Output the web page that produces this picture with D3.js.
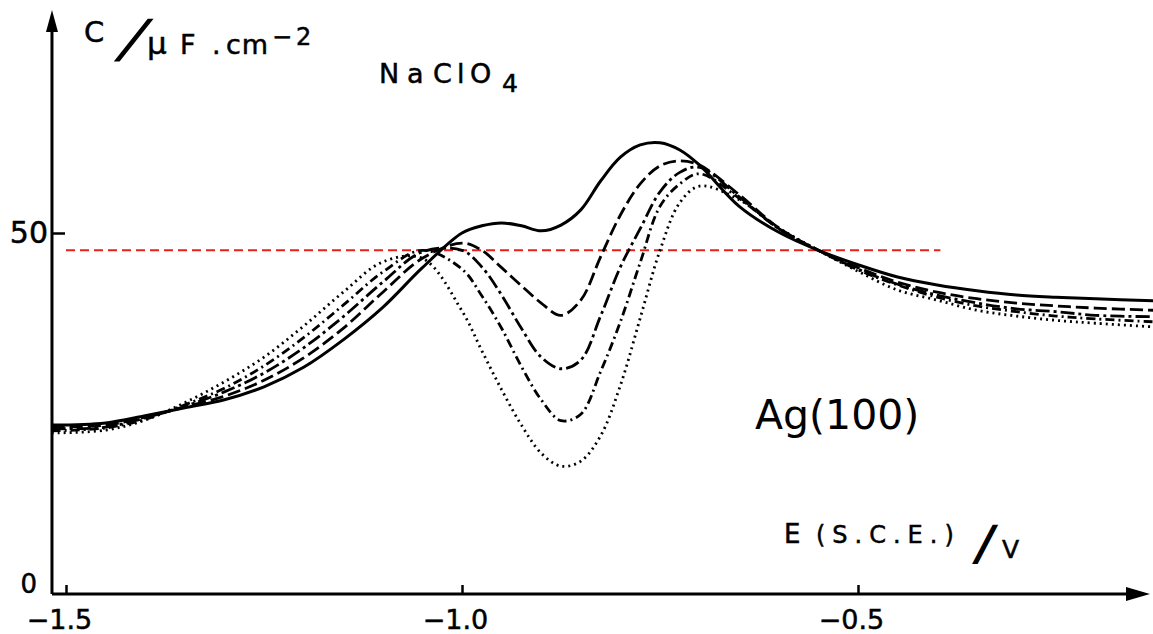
<!DOCTYPE html>
<html>
<head>
<meta charset="utf-8">
<script src="https://cdn.jsdelivr.net/npm/d3@7"></script>
<style>
  body { margin: 0; background: #fff; }
  text { font-family: "DejaVu Sans", sans-serif; fill: #000; }
  .scan { stroke: #000; stroke-width: 0.5; }
  .slash { stroke: #000; stroke-width: 1.6; }
</style>
</head>
<body>
<div id="chart"></div>
<script>
var width = 1153, height = 634;

// potentials (V vs SCE), shared by all curves
var potential = [-1.518, -1.45, -1.40, -1.35, -1.30, -1.25, -1.20, -1.15, -1.10, -1.05,
  -1.00, -0.975, -0.95, -0.925, -0.90, -0.875, -0.85, -0.825, -0.80, -0.775,
  -0.75, -0.725, -0.70, -0.65, -0.60, -0.55, -0.50, -0.45, -0.40, -0.35,
  -0.30, -0.25, -0.20, -0.127];

// capacitance, uF/cm2
var capSolid = [23.4, 23.7, 24.7, 25.8, 26.9, 28.7, 31.4, 35.2, 39.7, 45.2,
  50.0, 51.0, 51.4, 51.0, 50.3, 51.1, 53.2, 57.2, 60.5, 62.2,
  62.5, 61.5, 59.4, 53.7, 50.1, 47.6, 45.6, 43.9, 42.8, 42.0,
  41.4, 41.1, 40.9, 40.6];
var capDash = [23.1, 23.4, 24.5, 25.9, 27.4, 29.6, 32.7, 36.8, 41.8, 46.5,
  48.6, 47.6, 45.2, 42.7, 40.3, 38.6, 40.7, 46.7, 52.5, 56.8,
  59.3, 60.0, 59.4, 55.3, 50.7, 47.6, 45.2, 43.2, 41.8, 40.9,
  40.3, 39.9, 39.6, 39.3];
var capDashDot = [22.9, 23.1, 24.4, 26.0, 28.0, 30.6, 34.1, 38.4, 43.2, 47.4,
  47.6, 45.3, 41.4, 36.8, 32.8, 31.2, 32.4, 38.5, 45.3, 50.6,
  55.7, 58.4, 59.1, 55.0, 50.6, 47.6, 45.0, 42.9, 41.4, 40.3,
  39.5, 39.1, 38.6, 38.4];
var capDash2 = [22.6, 23.0, 24.2, 26.2, 28.5, 31.6, 35.5, 40.0, 44.6, 47.6,
  45.0, 41.3, 36.8, 31.5, 26.9, 24.0, 24.9, 30.8, 37.7, 45.9,
  53.7, 56.8, 58.2, 54.8, 50.6, 47.6, 44.9, 42.8, 41.1, 39.9,
  39.1, 38.5, 38.1, 37.7];
var capDotted = [22.3, 22.7, 24.1, 26.5, 29.4, 32.8, 37.1, 41.8, 46.0, 46.5,
  39.2, 33.7, 28.3, 23.4, 19.5, 17.7, 18.4, 21.9, 28.9, 38.2,
  47.6, 54.2, 56.5, 54.6, 50.7, 47.6, 44.7, 42.1, 40.7, 39.3,
  38.5, 37.9, 37.5, 37.0];

var curveNames = ["solid", "dash", "dashdot", "dash2", "dotted"];
var curveDash = ["none", "13,5", "14,4,3,4", "9,4,2,4", "2,4"];
var curveValues = [capSolid, capDash, capDashDot, capDash2, capDotted];

var xTicks = [-1.5, -1.0, -0.5];
var yTicks = [0, 50];
var refLevel = 47.6;         // red dashed reference
var refRange = [-1.50, -0.396];

var svg = d3.select("#chart").append("svg")
  .attr("width", width)
  .attr("height", height);

var x = d3.scaleLinear().domain([-1.5, -0.5]).range([66, 858]);
var y = d3.scaleLinear().domain([0, 50]).range([594, 233]);

var x0 = x(-1.5177), xEnd = 1150, yTop = 10;

// axes
svg.append("line")
  .attr("x1", x0).attr("x2", x0).attr("y1", y(0)).attr("y2", yTop + 12)
  .attr("stroke", "#000").attr("stroke-width", 3);
svg.append("path")
  .attr("d", "M" + x0 + "," + yTop + " L" + (x0 - 6) + "," + (yTop + 22) + " L" + (x0 + 6) + "," + (yTop + 22) + " Z")
  .attr("fill", "#000");
svg.append("line")
  .attr("x1", x0).attr("x2", xEnd - 14).attr("y1", y(0)).attr("y2", y(0))
  .attr("stroke", "#000").attr("stroke-width", 3);
svg.append("path")
  .attr("d", "M" + xEnd + "," + y(0) + " L" + (xEnd - 24) + "," + (y(0) - 7) + " L" + (xEnd - 24) + "," + (y(0) + 7) + " Z")
  .attr("fill", "#000");

var xAxis = d3.axisBottom(x)
  .tickValues(xTicks)
  .tickSizeInner(-9)
  .tickSizeOuter(0)
  .tickPadding(16)
  .tickFormat(function(d){ return "\u2212" + Math.abs(d).toFixed(1); });

var gx = svg.append("g")
  .attr("transform", "translate(0," + y(0) + ")")
  .call(xAxis);
gx.select(".domain").remove();
gx.selectAll(".tick line").attr("stroke", "#000").attr("stroke-width", 2.5);
gx.selectAll(".tick text")
  .attr("class", "scan")
  .attr("font-size", 27)
  .attr("font-family", "DejaVu Sans, sans-serif")
  .attr("dx", -7);

var yAxis = d3.axisLeft(y)
  .tickValues(yTicks)
  .tickSizeInner(-13)
  .tickSizeOuter(0)
  .tickPadding(4);

var gy = svg.append("g")
  .attr("transform", "translate(" + x0 + ",0)")
  .call(yAxis);
gy.select(".domain").remove();
gy.selectAll(".tick line").attr("stroke", "#000").attr("stroke-width", 2.5)
  .filter(function(d){ return d === 0; }).remove();
gy.selectAll(".tick text")
  .attr("class", "scan")
  .attr("font-size", function(d){ return d === 0 ? 26 : 30; })
  .attr("dx", function(d){ return d === 0 ? -11 : 0; })
  .attr("dy", function(d){ return d === 0 ? "-0.05em" : "0.32em"; });

// red reference line
svg.append("line")
  .attr("x1", x(refRange[0])).attr("x2", x(refRange[1]))
  .attr("y1", y(refLevel)).attr("y2", y(refLevel))
  .attr("stroke", "#e8201c")
  .attr("stroke-width", 2)
  .attr("stroke-dasharray", "9,5");

// curves
var line = d3.line()
  .x(function(d){ return x(d[0]); })
  .y(function(d){ return y(d[1]); })
  .curve(d3.curveCatmullRom.alpha(0.5));

curveValues.forEach(function(vals, i) {
  var pts = potential.map(function(e, j){ return [e, vals[j]]; });
  svg.append("path")
    .datum(pts)
    .attr("class", "curve " + curveNames[i])
    .attr("d", line)
    .attr("fill", "none")
    .attr("stroke", "#000")
    .attr("stroke-width", i === 0 ? 3 : 2.8)
    .attr("stroke-dasharray", curveDash[i]);
});

// y label: C / uF.cm-2
svg.append("text").attr("class", "scan").attr("x", 84).attr("y", 42).attr("font-size", 29).text("C");
svg.append("text")
  .attr("class", "slash")
  .attr("transform", "translate(126,56) skewX(-26)")
  .attr("text-anchor", "middle")
  .attr("font-size", 50).text("/");
var yl = svg.append("text").attr("class", "scan").attr("y", 54).attr("font-size", 27);
yl.append("tspan").attr("x", 147).attr("font-size", 31).text("\u03bc");
yl.append("tspan").attr("x", 180).text("F");
yl.append("tspan").attr("x", 212).text(".");
yl.append("tspan").attr("x", 226).attr("letter-spacing", 1).text("cm");
yl.append("tspan").attr("x", 272).attr("y", 45).attr("font-size", 24).text("\u2212");
yl.append("tspan").attr("x", 296).attr("y", 45).attr("font-size", 24).text("2");

// electrolyte
var na = svg.append("text").attr("class", "scan").attr("y", 83).attr("font-size", 27);
na.append("tspan").attr("x", 379).text("N");
na.append("tspan").attr("x", 407).text("a");
na.append("tspan").attr("x", 433).text("C");
na.append("tspan").attr("x", 457).text("l");
na.append("tspan").attr("x", 470).text("O");
na.append("tspan").attr("x", 502).attr("y", 92).attr("font-size", 25).text("4");

svg.append("text")
  .attr("x", 755).attr("y", 429)
  .attr("font-family", "Open Sans, sans-serif")
  .attr("font-size", 41)
  .text("Ag(100)");

// x label: E (S.C.E.) / V
var el = svg.append("text").attr("class", "scan").attr("y", 543).attr("font-size", 26);
el.append("tspan").attr("x", 784).text("E");
el.append("tspan").attr("x", 816).attr("font-size", 24).attr("letter-spacing", 7).text("(S.C.E.)");
svg.append("text")
  .attr("class", "slash")
  .attr("transform", "translate(982,559) skewX(-12)")
  .attr("text-anchor", "middle")
  .attr("font-size", 46).text("/");
svg.append("text").attr("class", "scan").attr("x", 1002).attr("y", 558).attr("font-size", 25).text("V");
</script>
</body>
</html>
